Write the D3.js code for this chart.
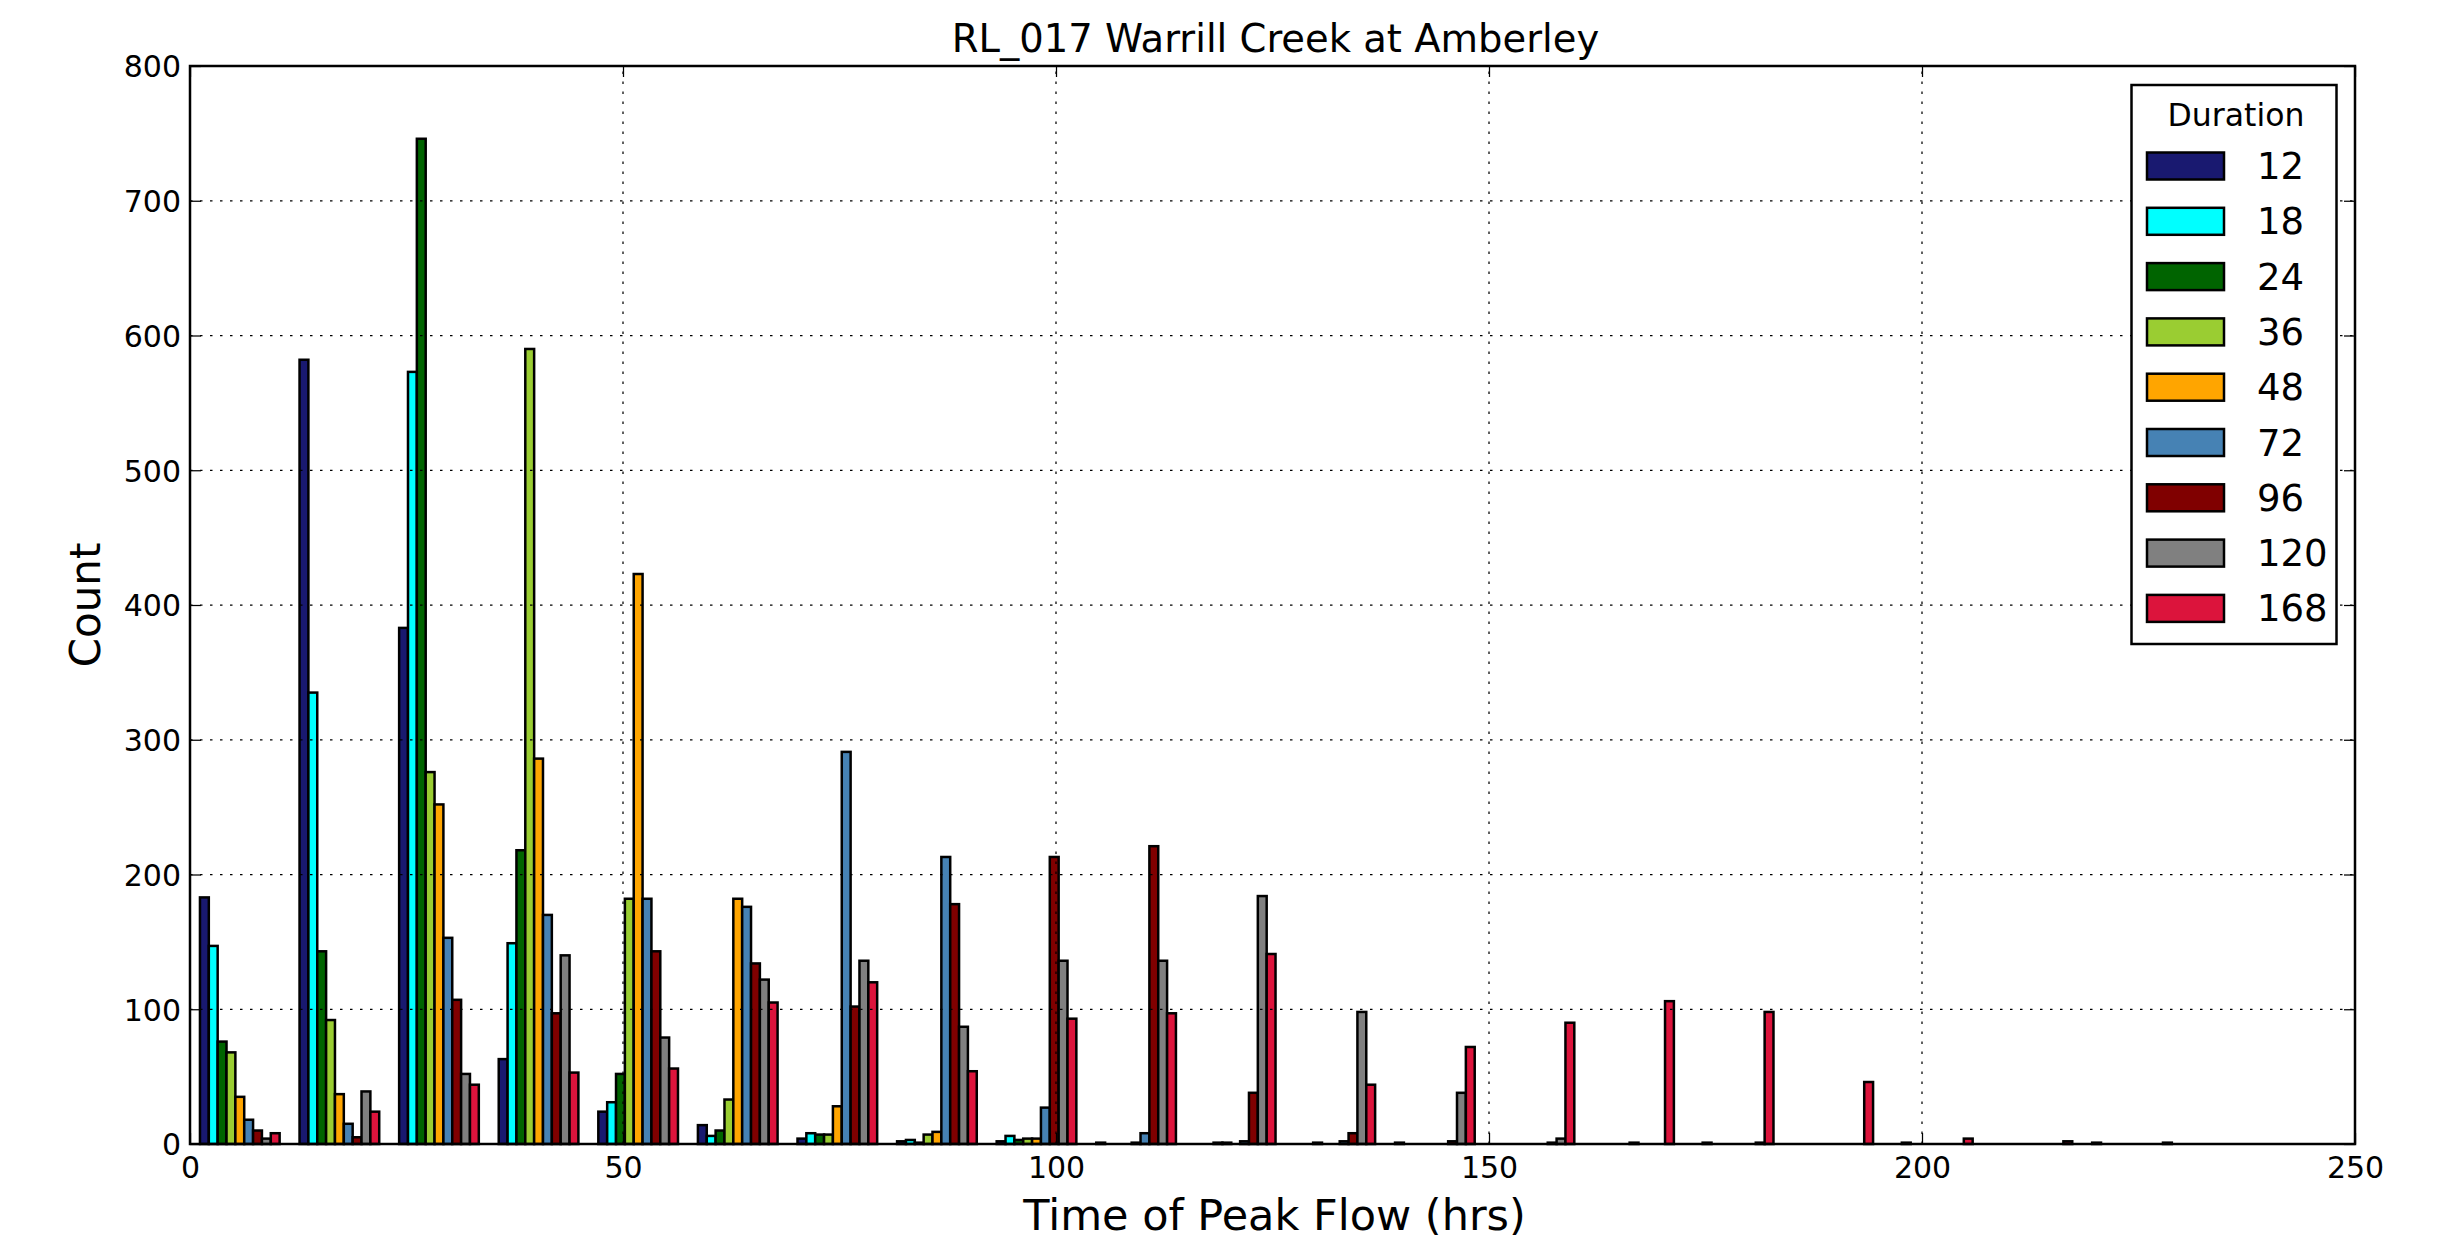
<!DOCTYPE html>
<html>
<head>
<meta charset="utf-8">
<script src="https://cdn.jsdelivr.net/npm/d3@7"></script>
<style>
  html, body { margin: 0; padding: 0; background: #ffffff; }
  svg { display: block; }
  text { font-family: "DejaVu Sans", sans-serif; fill: #000; }
</style>
</head>
<body>
<svg id="chart" width="2460" height="1255"></svg>
<script>
// ---- data ----
const chartTitle = "RL_017 Warrill Creek at Amberley";
const xLabel = "Time of Peak Flow (hrs)";
const yLabel = "Count";
const legendTitle = "Duration";
const durations = ["12", "18", "24", "36", "48", "72", "96", "120", "168"];
const colors = ["#191970", "#00ffff", "#006400", "#9acd32", "#ffa500", "#4682b4", "#800000", "#808080", "#dc143c"];
const binEdges = [0, 11.5, 23, 34.5, 46, 57.5, 69, 80.5, 92, 103.5, 115, 126.5, 138, 149.5, 161, 172.5, 184, 195.5, 207, 218.5, 230];

const counts12  = [183, 582, 383,  63,  24,  14,   4,   2,   2,   1,   0,   0,   1,   0,   0,   0,   0,   0,   0,   1];
const counts18  = [147, 335, 573, 149,  31,   6,   8,   3,   6,   0,   0,   0,   0,   0,   0,   1,   0,   1,   0,   0];
const counts24  = [ 76, 143, 746, 218,  52,  10,   7,   1,   3,   0,   1,   1,   0,   0,   0,   0,   0,   0,   0,   0];
const counts36  = [ 68,  92, 276, 590, 182,  33,   7,   7,   4,   0,   1,   0,   0,   0,   0,   0,   0,   0,   0,   0];
const counts48  = [ 35,  37, 252, 286, 423, 182,  28,   9,   4,   1,   0,   0,   0,   0,   1,   0,   0,   0,   0,   0];
const counts72  = [ 18,  15, 153, 170, 182, 176, 291, 213,  27,   8,   2,   2,   0,   0,   0,   0,   0,   0,   0,   0];
const counts96  = [ 10,   5, 107,  97, 143, 134, 102, 178, 213, 221,  38,   8,   2,   1,   0,   0,   0,   0,   0,   0];
const counts120 = [  4,  39,  52, 140,  79, 122, 136,  87, 136, 136, 184,  98,  38,   4,   0,   1,   0,   0,   0,   0];
const counts168 = [  8,  24,  44,  53,  56, 105, 120,  54,  93,  97, 141,  44,  72,  90, 106,  98,  46,   4,   2,   1];
const seriesCounts = [counts12, counts18, counts24, counts36, counts48, counts72, counts96, counts120, counts168];

const xTicks = [0, 50, 100, 150, 200, 250];
const yTicks = [0, 100, 200, 300, 400, 500, 600, 700, 800];

// ---- layout ----
const plot = { left: 190, right: 2355, top: 66, bottom: 1144 };
const svg = d3.select("#chart");
svg.append("rect").attr("width", 2460).attr("height", 1255).attr("fill", "#fff");

const x = d3.scaleLinear().domain([0, 250]).range([plot.left, plot.right]);
const y = d3.scaleLinear().domain([0, 800]).range([plot.bottom, plot.top]);

// ---- bars (matplotlib-style grouped histogram, rwidth 0.8) ----
const nSeries = durations.length;
const barsG = svg.append("g");
seriesCounts.forEach((arr, j) => {
  const recs = arr.map((c, i) => {
    const bw = binEdges[i + 1] - binEdges[i];
    const w = 0.8 * bw / nSeries;
    const x0 = binEdges[i] + 0.1 * bw + j * w;
    return { x0, x1: x0 + w, c };
  });
  barsG.selectAll(null).data(recs).enter().append("rect")
    .attr("x", d => x(d.x0))
    .attr("width", d => x(d.x1) - x(d.x0))
    .attr("y", d => y(d.c))
    .attr("height", d => y(0) - y(d.c))
    .attr("fill", colors[j])
    .attr("stroke", "#000")
    .attr("stroke-width", 2.5);
});

// ---- grid (dotted, drawn above bars like classic matplotlib) ----
const gridG = svg.append("g").attr("stroke", "#000").attr("stroke-width", 1.25)
  .attr("stroke-dasharray", "2.5,7.5").attr("fill", "none");
gridG.selectAll(null).data(xTicks).enter().append("line")
  .attr("x1", d => x(d)).attr("x2", d => x(d))
  .attr("y1", plot.bottom).attr("y2", plot.top);
gridG.selectAll(null).data(yTicks).enter().append("line")
  .attr("x1", plot.left).attr("x2", plot.right)
  .attr("y1", d => y(d)).attr("y2", d => y(d));

// ---- axes with inward ticks on all four sides ----
const tickLen = 11;
const axB = svg.append("g").attr("transform", `translate(0,${plot.bottom})`)
  .call(d3.axisBottom(x).tickValues(xTicks).tickSize(-tickLen).tickPadding(12).tickFormat(d3.format("d")));
const axT = svg.append("g").attr("transform", `translate(0,${plot.top})`)
  .call(d3.axisTop(x).tickValues(xTicks).tickSize(-tickLen).tickFormat(""));
const axL = svg.append("g").attr("transform", `translate(${plot.left},0)`)
  .call(d3.axisLeft(y).tickValues(yTicks).tickSize(-tickLen).tickPadding(9).tickFormat(d3.format("d")));
const axR = svg.append("g").attr("transform", `translate(${plot.right},0)`)
  .call(d3.axisRight(y).tickValues(yTicks).tickSize(-tickLen).tickFormat(""));
[axB, axT, axL, axR].forEach(a => {
  a.select(".domain").remove();
  a.selectAll(".tick line").attr("stroke", "#000").attr("stroke-width", 1.25);
  a.selectAll(".tick text").attr("font-family", "DejaVu Sans").attr("font-size", 30).attr("fill", "#000");
});
axB.selectAll(".tick text").attr("dy", null).attr("y", 34);
axL.selectAll(".tick text").attr("dy", "0.36em").attr("x", -9);

// spines
svg.append("rect")
  .attr("x", plot.left).attr("y", plot.top)
  .attr("width", plot.right - plot.left).attr("height", plot.bottom - plot.top)
  .attr("fill", "none").attr("stroke", "#000").attr("stroke-width", 2.5);

// ---- titles ----
svg.append("text").attr("x", (plot.left + plot.right) / 2 + 3).attr("y", 52)
  .attr("text-anchor", "middle").attr("font-size", 38.5).text(chartTitle);
svg.append("text").attr("x", (plot.left + plot.right) / 2 + 2).attr("y", 1230)
  .attr("text-anchor", "middle").attr("font-size", 43).text(xLabel);
svg.append("text").attr("transform", `translate(100,${(plot.top + plot.bottom) / 2}) rotate(-90)`)
  .attr("text-anchor", "middle").attr("font-size", 42).text(yLabel);

// ---- legend ----
const leg = svg.append("g");
const legBox = { x: 2131.5, y: 85, w: 205, h: 559 };
leg.append("rect").attr("x", legBox.x).attr("y", legBox.y).attr("width", legBox.w).attr("height", legBox.h)
  .attr("fill", "#fff").attr("stroke", "#000").attr("stroke-width", 2.5);
leg.append("text").attr("x", legBox.x + legBox.w / 2 + 2).attr("y", 126)
  .attr("text-anchor", "middle").attr("font-size", 31.5).text(legendTitle);
const rowY = d3.scaleLinear().domain([0, 1]).range([166, 221.3]);
const items = leg.selectAll(null).data(durations).enter().append("g")
  .attr("transform", (d, i) => `translate(0,${rowY(i)})`);
items.append("rect").attr("x", 2147).attr("y", -13.5).attr("width", 77).attr("height", 27)
  .attr("fill", (d, i) => colors[i]).attr("stroke", "#000").attr("stroke-width", 2.5);
items.append("text").attr("x", 2257).attr("y", 13).attr("font-size", 37).text(d => d);
</script>
</body>
</html>
